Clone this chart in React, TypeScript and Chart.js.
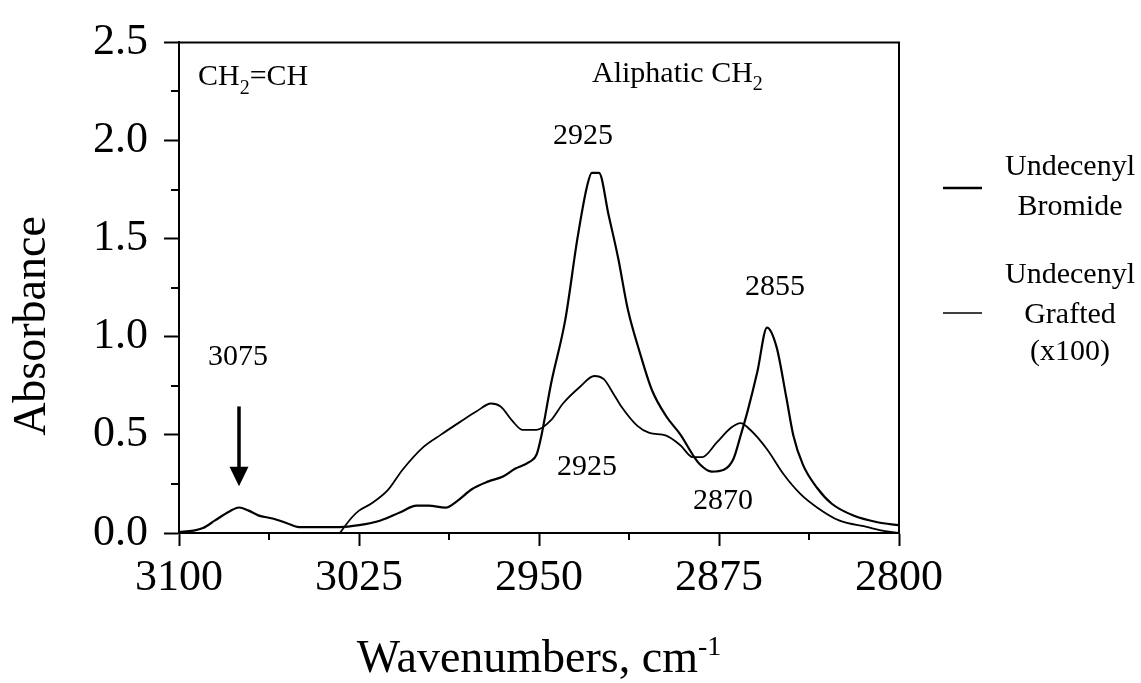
import { useEffect, useRef } from "react";
import { Chart, registerables } from "chart.js";

Chart.register(...registerables);

const SERIF = '"Liberation Serif", "Times New Roman", Times, serif';

// Axis ticks (wavenumbers in cm-1, absorbance)
const xTickValues = [3100, 3025, 2950, 2875, 2800];
const xMinorTickValues = [3062.5, 2987.5, 2912.5, 2837.5];
const yTickValues = [0, 0.5, 1.0, 1.5, 2.0, 2.5];
const yMinorTickValues = [0.25, 0.75, 1.25, 1.75, 2.25];

// Undecenyl bromide spectrum
const bromideWavenumbers = [
  3100, 3094, 3090, 3085, 3079, 3075, 3071, 3067, 3061, 3055, 3050, 3041, 3033, 3025, 3016,
  3008, 3001, 2996, 2989, 2984, 2978, 2971, 2965, 2960, 2954, 2951, 2949, 2945, 2939, 2934,
  2930, 2928, 2925, 2921, 2917, 2913, 2908, 2903, 2897, 2891, 2886, 2883, 2878, 2873, 2869,
  2866, 2863, 2859, 2855, 2851, 2847, 2844, 2840, 2834, 2828, 2819, 2809, 2800,
];
const bromideAbsorbance = [
  0.005, 0.012, 0.025, 0.064, 0.11, 0.13, 0.114, 0.09, 0.074, 0.05, 0.03, 0.03, 0.03, 0.04, 0.064,
  0.104, 0.139, 0.139, 0.129, 0.164, 0.223, 0.263, 0.288, 0.327, 0.362, 0.4, 0.496, 0.759, 1.09, 1.5,
  1.766, 1.835, 1.835, 1.62, 1.4, 1.14, 0.92, 0.73, 0.595, 0.5, 0.4, 0.35, 0.3125, 0.322, 0.377,
  0.496, 0.625, 0.823, 1.047, 0.947, 0.694, 0.496, 0.347, 0.228, 0.149, 0.089, 0.055, 0.04,
];

// Grafted undecenyl spectrum (scaled x100)
const graftedWavenumbers = [
  3033, 3028, 3025, 3020, 3013, 3007, 2998, 2991, 2983, 2976, 2970, 2966, 2961, 2957, 2951,
  2945, 2940, 2933, 2927, 2923, 2919, 2916, 2909, 2904, 2897, 2891, 2886, 2882, 2876, 2870,
  2866, 2862, 2855, 2848, 2841, 2834, 2825, 2813, 2808, 2800,
];
const graftedAbsorbance = [
  0.0, 0.079, 0.114, 0.149, 0.218, 0.32, 0.44, 0.5, 0.565, 0.62, 0.66, 0.645, 0.57, 0.526, 0.526,
  0.575, 0.66, 0.744, 0.8, 0.784, 0.71, 0.65, 0.546, 0.51, 0.496, 0.446, 0.387, 0.387, 0.46, 0.536,
  0.56, 0.526, 0.427, 0.298, 0.198, 0.129, 0.064, 0.03, 0.015, 0.0,
];

const seriesNames = ["Undecenyl Bromide", "Undecenyl Grafted (x100)"];
const legendTextLines = [
  ["Undecenyl", "Bromide"],
  ["Undecenyl", "Grafted", "(x100)"],
];

// Peak labels (text, wavenumber, absorbance of the text baseline)
const peakLabelText = ["2925", "2855", "2925", "2870", "3075"];
const peakLabelWavenumber = [2931.7, 2851.7, 2930, 2873.3, 3075.4];
const peakLabelBaseline = [1.984, 1.215, 0.298, 0.124, 0.858];

type Part = { t: string; size: number; dy: number };

function drawParts(ctx: CanvasRenderingContext2D, parts: Part[], x: number, y: number) {
  let cx = x;
  ctx.textAlign = "left";
  ctx.textBaseline = "alphabetic";
  for (const p of parts) {
    ctx.font = `${p.size}px ${SERIF}`;
    ctx.fillText(p.t, cx, y + p.dy);
    cx += ctx.measureText(p.t).width;
  }
}

function partsWidth(ctx: CanvasRenderingContext2D, parts: Part[]) {
  let w = 0;
  for (const p of parts) {
    ctx.font = `${p.size}px ${SERIF}`;
    w += ctx.measureText(p.t).width;
  }
  return w;
}

const decorPlugin = {
  id: "spectrumDecor",
  afterDraw(chart: any) {
    const { ctx, chartArea, scales } = chart;
    const xs = scales.x;
    const ys = scales.y;
    const { left, right, top, bottom } = chartArea;
    ctx.save();
    ctx.fillStyle = "#000";
    ctx.strokeStyle = "#000";

    // frame: top and right edges
    ctx.lineWidth = 2;
    ctx.beginPath();
    ctx.moveTo(left, top);
    ctx.lineTo(right, top);
    ctx.lineTo(right, bottom);
    ctx.stroke();

    // minor ticks
    ctx.lineWidth = 2;
    ctx.beginPath();
    for (const v of xMinorTickValues) {
      const px = Math.round(xs.getPixelForValue(v));
      ctx.moveTo(px, bottom);
      ctx.lineTo(px, bottom + 7);
    }
    for (const v of yMinorTickValues) {
      const py = Math.round(ys.getPixelForValue(v));
      ctx.moveTo(left, py);
      ctx.lineTo(left - 8, py);
    }
    ctx.stroke();

    // band labels
    drawParts(
      ctx,
      [
        { t: "CH", size: 30, dy: 0 },
        { t: "2", size: 20, dy: 9 },
        { t: "=CH", size: 30, dy: 0 },
      ],
      xs.getPixelForValue(3092.1),
      ys.getPixelForValue(2.282)
    );
    drawParts(
      ctx,
      [
        { t: "Aliphatic CH", size: 30, dy: 0 },
        { t: "2", size: 20, dy: 8 },
      ],
      xs.getPixelForValue(2927.9),
      ys.getPixelForValue(2.297)
    );

    // peak wavenumbers
    ctx.font = `30px ${SERIF}`;
    ctx.textAlign = "center";
    ctx.textBaseline = "alphabetic";
    peakLabelText.forEach((t, i) => {
      ctx.fillText(t, xs.getPixelForValue(peakLabelWavenumber[i]), ys.getPixelForValue(peakLabelBaseline[i]));
    });

    // arrow pointing at the vinyl band
    const ax = xs.getPixelForValue(3075);
    const aTop = ys.getPixelForValue(0.645);
    const aHead = ys.getPixelForValue(0.337);
    const aTip = ys.getPixelForValue(0.238);
    ctx.lineWidth = 3.5;
    ctx.beginPath();
    ctx.moveTo(ax, aTop);
    ctx.lineTo(ax, aHead + 2);
    ctx.stroke();
    ctx.beginPath();
    ctx.moveTo(ax - 9.5, aHead);
    ctx.lineTo(ax + 9.5, aHead);
    ctx.lineTo(ax, aTip);
    ctx.closePath();
    ctx.fill();

    // legend
    const lx0 = right + 44;
    const lx1 = right + 83;
    const tx = right + 171;
    const lineY = [188, 313];
    const lineW = [2.5, 1.6];
    const textBaselines = [
      [175, 215],
      [283, 323, 360],
    ];
    legendTextLines.forEach((lines, i) => {
      ctx.lineWidth = lineW[i];
      ctx.beginPath();
      ctx.moveTo(lx0, lineY[i]);
      ctx.lineTo(lx1, lineY[i]);
      ctx.stroke();
      ctx.font = `30px ${SERIF}`;
      ctx.textAlign = "center";
      ctx.textBaseline = "alphabetic";
      lines.forEach((s, j) => ctx.fillText(s, tx, textBaselines[i][j]));
    });

    // axis titles
    const xTitle: Part[] = [
      { t: "Wavenumbers, cm", size: 46, dy: 0 },
      { t: "-1", size: 28, dy: -17 },
    ];
    const w = partsWidth(ctx, xTitle);
    drawParts(ctx, xTitle, (left + right) / 2 - w / 2, 672);

    ctx.save();
    ctx.translate(45, 326);
    ctx.rotate(-Math.PI / 2);
    ctx.font = `46px ${SERIF}`;
    ctx.textAlign = "center";
    ctx.textBaseline = "alphabetic";
    ctx.fillText("Absorbance", 0, 0);
    ctx.restore();

    ctx.restore();
  },
};

export default function App() {
  const canvasRef = useRef<HTMLCanvasElement | null>(null);

  useEffect(() => {
    const canvas = canvasRef.current;
    if (!canvas) return;
    const chart = new Chart(canvas, {
      type: "line",
      data: {
        datasets: [
          {
            label: seriesNames[0],
            data: bromideWavenumbers.map((x, i) => ({ x, y: bromideAbsorbance[i] })),
            borderColor: "#000",
            borderWidth: 2.2,
            pointRadius: 0,
            fill: false,
            cubicInterpolationMode: "monotone",
          },
          {
            label: seriesNames[1],
            data: graftedWavenumbers.map((x, i) => ({ x, y: graftedAbsorbance[i] })),
            borderColor: "#000",
            borderWidth: 1.8,
            pointRadius: 0,
            fill: false,
            cubicInterpolationMode: "monotone",
          },
        ],
      },
      options: {
        responsive: false,
        animation: false,
        devicePixelRatio: 1,
        layout: { padding: { top: 29, right: 242, bottom: 0, left: 0 } },
        plugins: { legend: { display: false }, tooltip: { enabled: false } },
        scales: {
          x: {
            type: "linear",
            min: 2800,
            max: 3100,
            reverse: true,
            afterBuildTicks: (s: any) => {
              s.ticks = xTickValues.map((v) => ({ value: v }));
            },
            afterFit: (s: any) => {
              s.height = 150;
            },
            grid: { drawOnChartArea: false, drawTicks: true, tickLength: 13, tickColor: "#000", tickWidth: 2 },
            border: { display: true, color: "#000", width: 2 },
            ticks: {
              color: "#000",
              font: { family: SERIF, size: 44 },
              padding: 6,
              maxRotation: 0,
              autoSkip: false,
              callback: (v: any) => String(v),
            },
          },
          y: {
            type: "linear",
            min: 0,
            max: 2.5,
            afterBuildTicks: (s: any) => {
              s.ticks = yTickValues.map((v) => ({ value: v }));
            },
            afterFit: (s: any) => {
              s.width = 179;
            },
            grid: { drawOnChartArea: false, drawTicks: true, tickLength: 15, tickColor: "#000", tickWidth: 2 },
            border: { display: true, color: "#000", width: 2 },
            ticks: {
              color: "#000",
              font: { family: SERIF, size: 44 },
              padding: 16,
              autoSkip: false,
              callback: (v: any) => Number(v).toFixed(1),
            },
          },
        },
      },
      plugins: [decorPlugin],
    } as any);
    return () => chart.destroy();
  }, []);

  return (
    <div style={{ position: "absolute", left: 0, top: 0, width: 1141, height: 683, background: "#fff" }}>
      <canvas ref={canvasRef} width={1141} height={683} style={{ display: "block" }} />
    </div>
  );
}
